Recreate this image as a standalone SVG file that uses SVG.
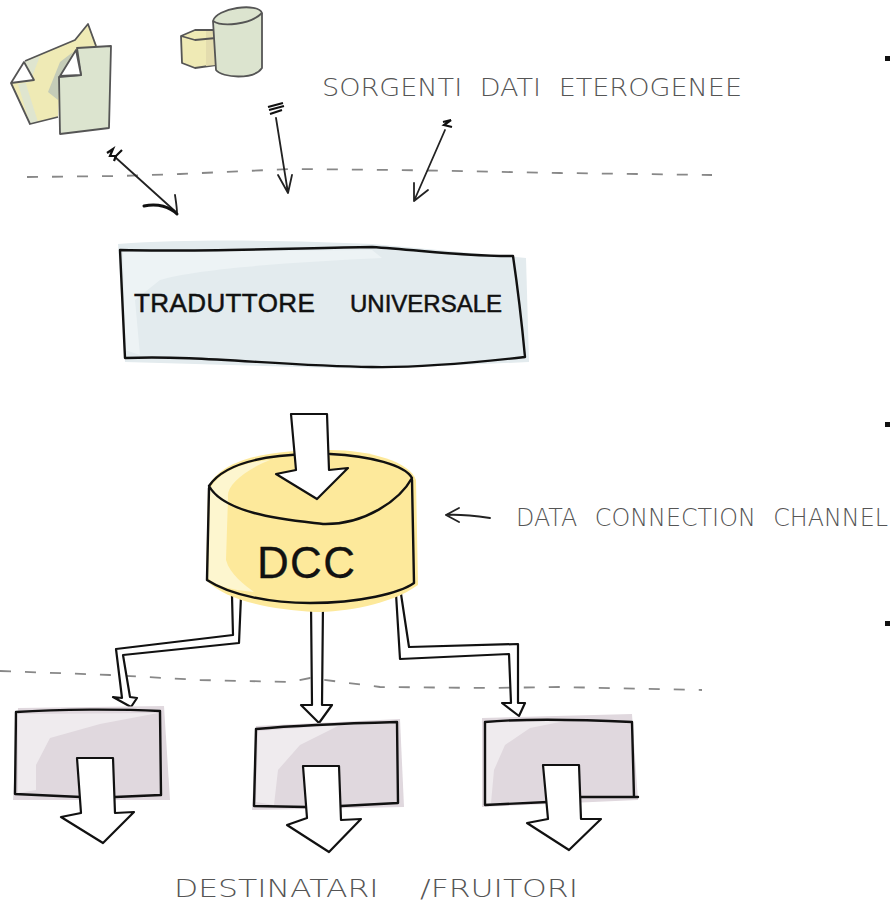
<svg xmlns="http://www.w3.org/2000/svg" width="892" height="905" viewBox="0 0 892 905">
<style>
.ink{fill:none;stroke:#111;stroke-width:2.4;stroke-linecap:round;stroke-linejoin:round}
.wa{fill:#fff;stroke:#111;stroke-width:2.2;stroke-linejoin:round}
.sk{fill:none;stroke:#222;stroke-width:1.8;stroke-linecap:round;stroke-linejoin:round}
.gr{stroke:#555;stroke-width:1.8;stroke-linejoin:round}
.dash{fill:none;stroke:#888;stroke-width:1.8;stroke-dasharray:11 14}
.lab{font-family:"DejaVu Sans",sans-serif;font-weight:200;fill:#555}
.big{font-family:"Liberation Sans",sans-serif;fill:#111;stroke:#111;stroke-width:.5}
.sel{fill:#e0d8de}.selh{fill:#efebee}
</style>
<g id="connectors">
<path class="dash" d="M27 177L120 176L180 174L290 169L400 170L560 173L712 175"/>
<path class="dash" d="M0 671L110 675L200 680L290 682L310 678L380 687L490 688L560 687L702 690"/>
<path class="sk" d="M115 157L177 213M175 195C176 202 177 208 177 213"/>
<path d="M144 206C158 203 170 207 177 214" fill="none" stroke="#111" stroke-width="3" stroke-linecap="round"/>
<path class="sk" d="M276 118L288 193M278 175L288 193L292 175"/>
<path class="sk" d="M445 130L414 201M414 183L414 201L428 190"/>
<path d="M107 153L113 149L110 156L116 156L122 150M116 156L114 161M268 107L283 103M269 110L284 106M270 114L282 110M443 122L451 120L444 125L452 127" fill="none" stroke="#111" stroke-width="2.2"/>
<path class="sk" d="M446 515L459 508M446 515L459 522M446 515C460 514 476 516 490 518"/>
<path class="wa" d="M232 596L233 635L116 649L122 698L113 697L131 707L137 698L130 697L123 655L239 643L241 596Z"/>
<path class="wa" d="M311 603L312 705L301 705L319 723L332 705L322 705L323 603Z"/>
<path class="wa" d="M396 594L400 659L509 654L511 703L502 703L519 716L525 703L518 703L518 644L409 647L401 594Z"/>
</g>
<g id="docs">
<path d="M25 61L75 40L88 24L97 46L80 70L60 80L58 117L31 124L11 83L34 80Z" fill="#efeab5"/>
<path d="M25 61L40 56L30 82L18 84L30 124L38 122L26 84Z" fill="#dfe5cf"/>
<path d="M60 62L73 52L60 78L58 100L48 92Z" fill="#c5ccb8"/>
<path d="M25 61L75 40L88 24L96 46" fill="none" class="gr"/>
<path d="M11 83L30 124L58 117" fill="none" class="gr"/>
<path d="M11 83L24 62L34 80Z" fill="#fff" class="gr"/>
<path d="M77 48L111 46L109 128L60 134L59 77L81 75Z" fill="#dce4cf" class="gr"/>
<path d="M60 76L76 50L81 75Z" fill="#fff" class="gr"/>
</g>
<g id="db">
<path d="M181 36L195 30L215 30L216 65L195 68L182 63Z" fill="#efeab5" class="gr"/>
<path d="M206 31L215 31L216 65L206 66Z" fill="#e3dcae"/>
<path d="M181 36L195 40L216 38" fill="none" class="gr"/>
<path d="M213 21C216 8 258 2 262 13L262 68C254 80 222 78 216 70Z" fill="#dce4cf" class="gr"/>
<path d="M213 21C222 27 250 25 262 13" fill="none" class="gr"/>
</g>
<g id="traduttore">
<path d="M118 244C200 238 300 241 372 244L526 258L529 362L372 369L125 362Z" fill="#e3ebee"/>
<path d="M123 252L372 250L382 258C300 262 200 268 160 280L135 300L140 355L125 350Z" fill="#edf3f5"/>
<path class="ink" d="M120 250C200 252 300 248 372 247C420 250 470 257 513 256C518 290 522 325 525 357C480 362 420 368 372 367C280 366 200 355 125 358Z"/>
<text class="big" y="312" font-size="26" letter-spacing=".4"><tspan x="134">TRADUTTORE </tspan><tspan x="350" font-size="24" letter-spacing="0">UNIVERSALE</tspan></text>
</g>
<g id="dcc">
<path d="M208 487C222 458 270 450 330 450C370 450 410 462 416 480L418 585C390 605 345 612 315 612C270 610 225 600 206 580Z" fill="#fde99b"/>
<path d="M210 490C215 475 240 462 270 460C245 470 226 485 228 498L226 560C230 575 245 585 254 592C230 590 214 585 208 578Z" fill="#fdf6cf"/>
<path class="ink" d="M310 454C270 455 225 462 209 486C225 515 290 520 323 524C365 525 400 500 412 478C405 465 370 456 330 454"/>
<path class="ink" d="M209 488L207 580C230 595 270 603 310 603C360 603 400 593 414 583L412 480"/>
<path class="wa" d="M291 414L327 414L329 470L348 468L317 499L276 474L296 470Z"/>
<text class="big" x="257" y="578" font-size="44" font-weight="400" textLength="98" lengthAdjust="spacing" style="stroke-width:.3">DCC</text>
</g>
<g id="dest1">
<path class="sel" d="M18 708L164 706L170 800L13 800Z"/>
<path class="selh" d="M18 714L158 713L100 724L50 738L36 765L36 790L18 793Z"/>
<path class="ink" d="M16 712C60 709 120 709 160 711L161 795M81 797L15 794L16 712M115 797L161 795"/>
<path class="wa" d="M77 758L113 758L115 813L134 812L103 843L61 817L81 813Z"/>
</g>
<g id="dest2">
<path class="sel" d="M256 726L400 719L404 807L252 810Z"/>
<path class="selh" d="M258 731L340 725L300 745L278 770L274 805L256 802Z"/>
<path class="ink" d="M256 729C300 725 360 723 397 722L398 803L341 806M307 807L254 806L256 729"/>
<path class="wa" d="M303 766L339 766L341 820L361 819L329 852L287 825L307 818Z"/>
</g>
<g id="dest3">
<path class="sel" d="M482 718L632 714L638 800L482 807Z"/>
<path class="selh" d="M486 723L570 720L530 728L505 745L494 770L491 803L486 803Z"/>
<path class="ink" d="M485 722C530 718 590 720 632 722L634 797L638 797M581 797L634 797M548 802L485 805L485 722"/>
<path class="wa" d="M543 765L579 765L581 819L601 819L569 850L527 823L548 819Z"/>
</g>
<g id="labels">
<text class="lab" x="322" y="96" font-size="24" word-spacing="8" textLength="420" lengthAdjust="spacingAndGlyphs">SORGENTI DATI ETEROGENEE</text>
<text class="lab" x="516" y="526" font-size="24" word-spacing="10" textLength="372" lengthAdjust="spacingAndGlyphs">DATA CONNECTION CHANNEL</text>
<text class="lab" x="174" y="897" font-size="24" word-spacing="24" textLength="404" lengthAdjust="spacingAndGlyphs">DESTINATARI /FRUITORI</text>
</g>
<g id="ticks" fill="#111">
<rect x="885" y="56" width="5" height="5"/>
<rect x="885" y="422" width="5" height="5"/>
<rect x="885" y="621" width="5" height="5"/>
</g>
</svg>
